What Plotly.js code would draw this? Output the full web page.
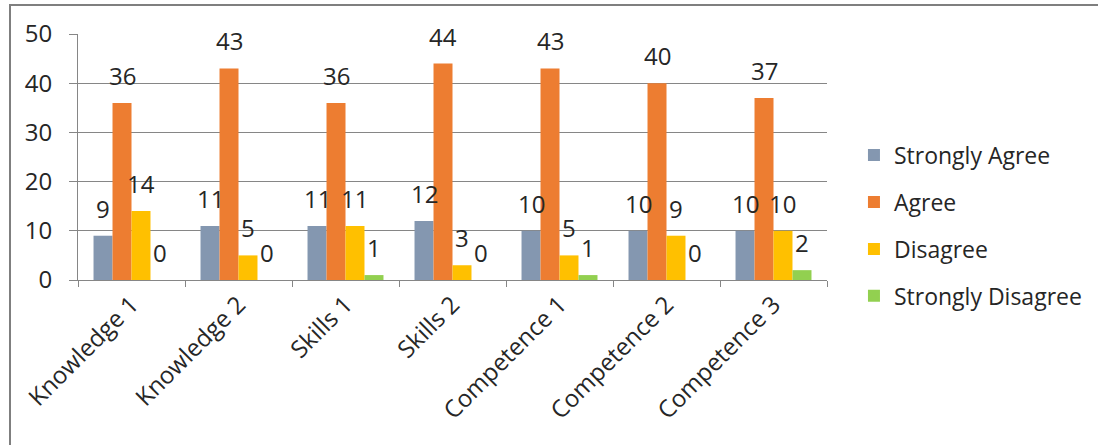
<!DOCTYPE html>
<html>
<head>
<meta charset="utf-8">
<script src="https://cdn.plot.ly/plotly-3.0.1.min.js"></script>
<style>
  html, body { margin: 0; padding: 0; background: #fff; overflow: hidden; }
  #chart { position: absolute; left: 0; top: 0; width: 1098px; height: 445px; }
  #frameTop { position: absolute; left: 10px; top: 4px; width: 1088px; height: 0; border-top: 2px solid #7f7f7f; }
  #frameLeft { position: absolute; left: 9px; top: 4px; width: 0; height: 441px; border-left: 2px solid #7f7f7f; }
</style>
</head>
<body>
<div id="chart"></div>
<div id="frameTop"></div>
<div id="frameLeft"></div>
<script>
const categories = ["Knowledge 1", "Knowledge 2", "Skills 1", "Skills 2", "Competence 1", "Competence 2", "Competence 3"];
const seriesNames = ["Strongly Agree", "Agree", "Disagree", "Strongly Disagree"];
const stronglyAgree = [9, 11, 11, 12, 10, 10, 10];
const agree = [36, 43, 36, 44, 43, 40, 37];
const disagree = [14, 5, 11, 3, 5, 9, 10];
const stronglyDisagree = [0, 0, 1, 0, 1, 0, 2];
const yTicks = [0, 10, 20, 30, 40, 50];

const seriesValues = [stronglyAgree, agree, disagree, stronglyDisagree];
const colors = ["#8497b0", "#ed7d31", "#ffc000", "#92d050"];
const FONT = "Open Sans, sans-serif";
const TXT = "#262626";

const W = 1098, H = 445;
const margin = { l: 78, r: 271, t: 34, b: 165, pad: 0, autoexpand: false };
const bargap = 0.29;
const plotW = W - margin.l - margin.r;
const barPx = (plotW / categories.length) * (1 - bargap) / seriesValues.length;

const traces = seriesValues.map((vals, i) => ({
  type: "bar",
  name: seriesNames[i],
  x: categories,
  y: vals,
  marker: { color: colors[i], line: { width: 0 } },
  legendgroup: "g" + i,
  hoverinfo: "x+y+name"
}));

const annotations = [];
seriesValues.forEach((vals, i) => {
  vals.forEach((v, j) => {
    annotations.push({
      x: categories[j], y: v, xref: "x", yref: "y",
      text: String(v), showarrow: false,
      xanchor: "center", yanchor: "bottom",
      xshift: (i - (seriesValues.length - 1) / 2) * barPx,
      yshift: 9,
      font: { family: FONT, size: 24, color: TXT }
    });
  });
});

const layout = {
  width: W, height: H,
  margin: margin,
  paper_bgcolor: "#ffffff",
  plot_bgcolor: "#ffffff",
  barmode: "group",
  bargap: bargap,
  bargroupgap: 0,
  showlegend: true,
  font: { family: FONT, size: 23, color: TXT },
  xaxis: {
    type: "category",
    tickangle: -45,
    tickson: "boundaries",
    ticks: "outside", ticklen: 6, tickcolor: "#868686", tickwidth: 1,
    showline: true, linecolor: "#868686", linewidth: 1,
    showgrid: false, zeroline: false,
    automargin: false,
    tickfont: { family: FONT, size: 24, color: TXT }
  },
  yaxis: {
    range: [0, 50],
    tickvals: yTicks,
    ticktext: yTicks.map(String),
    ticks: "outside", ticklen: 8, tickcolor: "#868686", tickwidth: 1,
    ticklabelstandoff: 12,
    showline: true, linecolor: "#868686", linewidth: 1,
    showgrid: true, gridcolor: "#868686", gridwidth: 1,
    zeroline: false,
    automargin: false,
    tickfont: { family: FONT, size: 24, color: TXT }
  },
  legend: {
    x: 1.036, xanchor: "left",
    y: 0.595, yanchor: "top",
    font: { family: FONT, size: 23, color: TXT },
    tracegroupgap: 14,
    itemwidth: 30,
    bgcolor: "rgba(0,0,0,0)"
  },
  annotations: annotations
};

Plotly.newPlot("chart", traces, layout, { displayModeBar: false, staticPlot: true });
</script>
</body>
</html>
